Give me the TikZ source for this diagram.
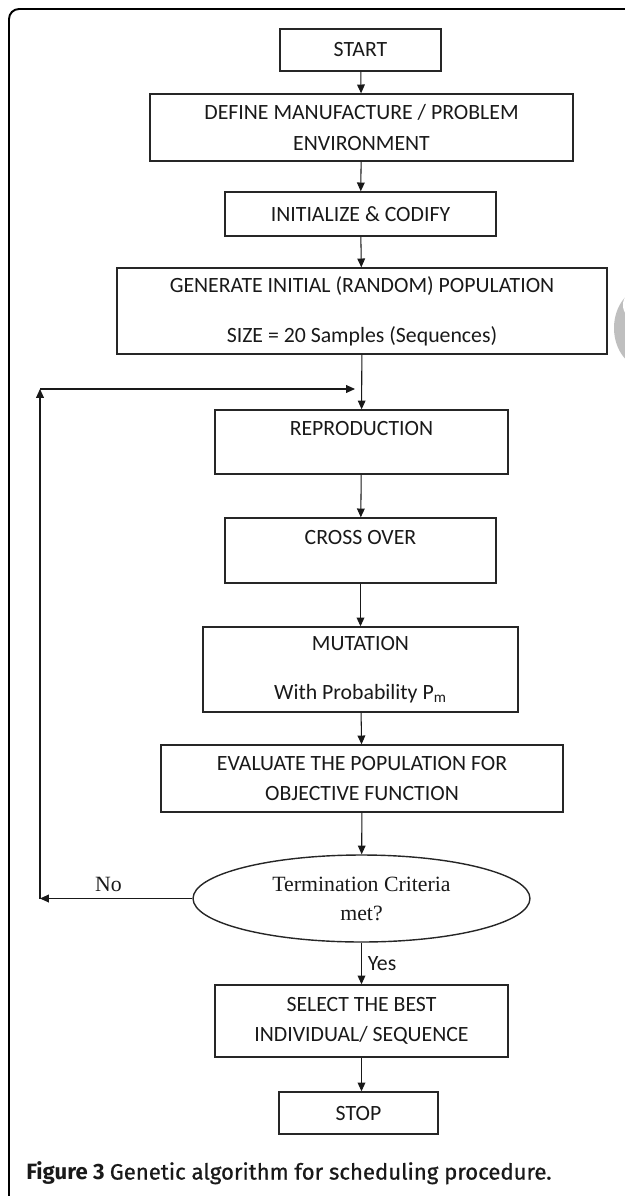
\documentclass[tikz,border=0pt]{standalone}
\usepackage{fontspec}
\setmainfont{Carlito}
\newfontfamily\timesfont{Liberation Serif}
\newfontfamily\capfont{Fira Sans}
\usetikzlibrary{arrows.meta, shapes.geometric}

\newcommand{\boxfont}{\fontsize{12.4}{15}\selectfont}

\begin{document}
\begin{tikzpicture}[
    x=0.02cm, y=-0.02cm, % one unit is one pixel of the page
    % Define box style
    stepbox/.style={
        draw=black!85, % Box border
        line width=0.8pt, % Border thickness
        rectangle, % Rectangle shape
        inner sep=0pt, % Size is set by hand
        text=black!90, % Text colour
        font=\boxfont, % Box font
        align=center % Center alignment
      },
    % Define decision style
    testbox/.style={
        stepbox, % Same look as a box
        ellipse, % Ellipse shape
        font=\timesfont\boxfont % Serif text
      },
    % Define arrow style
    arr/.style={
        -{Triangle[length=5pt, width=4.4pt]}, % Arrow type
        line width=0.6pt, % Line thickness
        black!90 % Line colour
      }
  ]

  \useasboundingbox (0,0) rectangle (625,1196);

  % Outer frame, open at the right and at the bottom
  \draw[line width=1.1pt, rounded corners=0.2cm] (9,1210) -- (9,9) -- (640,9);

  % Grey mark at the right edge
  \fill[black!25] (645,328) ellipse [x radius=31, y radius=40];
  \fill[white] (634,305) ellipse [x radius=11, y radius=14];

  % Define nodes
  \node[stepbox, minimum width=3.22cm, minimum height=0.84cm] (Start) at (360.5,50) {START}; % First box
  \node[stepbox, minimum width=8.46cm, minimum height=1.34cm] (Define) at (361.5,127.5) {DEFINE MANUFACTURE / PROBLEM\\[2.6pt]ENVIRONMENT};
  \node[stepbox, minimum width=5.42cm, minimum height=0.88cm] (Init) at (360.5,214) {INITIALIZE \& CODIFY};
  \node[stepbox, minimum width=9.80cm, minimum height=1.72cm] (Generate) at (362,311) {GENERATE INITIAL (RANDOM) POPULATION\\[13.5pt]SIZE = 20 Samples (Sequences)};
  \node[stepbox, minimum width=5.86cm, minimum height=1.28cm] (Repro) at (361.5,442) {REPRODUCTION\\\mbox{}}; % Text sits high in the box
  \node[stepbox, minimum width=5.42cm, minimum height=1.30cm] (Cross) at (360.5,550.5) {CROSS OVER\\\mbox{}};
  \node[stepbox, minimum width=6.30cm, minimum height=1.70cm] (Mutation) at (360.5,669.5) {MUTATION\\[12.9pt]With Probability P\textsubscript{m}};
  \node[stepbox, minimum width=8.04cm, minimum height=1.34cm] (Evaluate) at (362,778.5) {EVALUATE THE POPULATION FOR\\[2.6pt]OBJECTIVE FUNCTION};
  \node[testbox, minimum width=6.74cm, minimum height=1.74cm] (Criteria) at (361.5,898.5) {Termination Criteria\\[1.5pt]met?}; % Decision
  \node[stepbox, minimum width=5.86cm, minimum height=1.44cm] (Select) at (361.5,1021) {SELECT THE BEST\\[2.1pt]INDIVIDUAL/ SEQUENCE};
  \node[stepbox, minimum width=3.18cm, minimum height=0.84cm] (Stop) at (358.5,1113) {STOP}; % Last box

  % Corners of the loop back
  \coordinate (LoopLow) at (40,898.5);
  \coordinate (LoopHigh) at (40,389);
  \coordinate (LoopEnd) at (355,389);

  % Draw arrows and labels
  \draw[arr] (Start) -- (Define);
  \draw[arr] (Define) -- (Init);
  \draw[arr] (Init) -- (Generate);
  \draw[arr] (Generate) -- (Repro);
  \draw[arr] (Repro) -- (Cross);
  \draw[arr] (Cross) -- (Mutation);
  \draw[arr] (Mutation) -- (Evaluate);
  \draw[arr] (Evaluate) -- (Criteria);
  \draw[arr] (Criteria) -- node[right, font=\boxfont, text=black!90] {Yes} (Select);
  \draw[arr] (Select.south) -- (Select.south |- Stop.north);

  % No: back to the loop
  \draw[arr] (Criteria.west) -- node[above, pos=0.55, font=\timesfont\boxfont, text=black!90] {No} (LoopLow);
  \draw[arr] (LoopLow) -- (LoopHigh);
  \draw[arr] (LoopHigh) -- (LoopEnd);

  % Caption
  \node[anchor=west, inner sep=0pt, font=\capfont\fontsize{12.6}{15}\selectfont, text=black!90] (Caption) at (26,1173) {\bfseries Figure 3 \mdseries\addfontfeature{FakeBold=0.8}Genetic algorithm for scheduling procedure.};

\end{tikzpicture}
\end{document}
